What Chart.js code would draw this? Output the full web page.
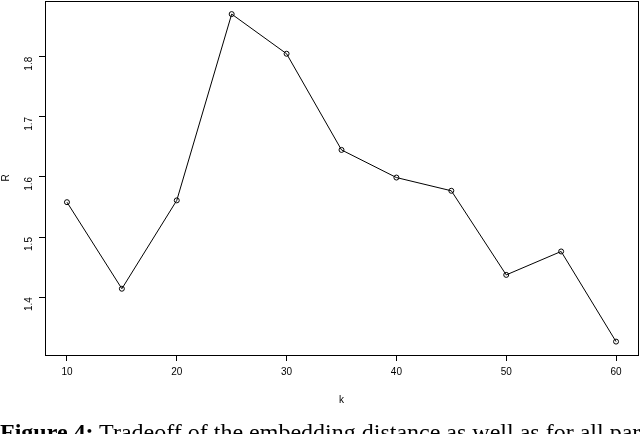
<!DOCTYPE html>
<html>
<head>
<meta charset="utf-8">
<script src="https://cdn.jsdelivr.net/npm/chart.js@4.4.1/dist/chart.umd.min.js"></script>
<style>
    html, body { margin: 0; padding: 0; background: #fff; }
    body { width: 640px; height: 434px; overflow: hidden; position: relative; }
    #chart { position: absolute; left: 0; top: 0; }
    .caption {
        position: absolute; left: 0; top: 419px; white-space: nowrap;
        font-family: "Liberation Serif", "DejaVu Serif", serif; font-size: 24px; color: #000;
    }
</style>
</head>
<body>
<canvas id="chart" width="640" height="434"></canvas>
<div class="caption"><b>Figure 4:</b> Tradeoff of the embedding distance as well as for all parameters and h</div>
<script>
// values
const kValues = [10, 15, 20, 25, 30, 35, 40, 45, 50, 55, 60];
const rValues = [1.558, 1.414, 1.561, 1.871, 1.805, 1.645, 1.599, 1.577, 1.437, 1.476, 1.326];
const xTicks = [10, 20, 30, 40, 50, 60];
const yTicks = [1.4, 1.5, 1.6, 1.7, 1.8];

const FONT = { family: 'Liberation Sans, Arial, sans-serif', size: 10 };

// R style box around the plotting region
const boxPlugin = {
    id: 'box',
    afterDraw(chart) {
        const a = chart.chartArea;
        const ctx = chart.ctx;
        ctx.save();
        ctx.strokeStyle = '#000';
        ctx.lineWidth = 1;
        ctx.strokeRect(Math.round(a.left) + 0.5, Math.round(a.top) + 0.5,
            Math.round(a.right - a.left), Math.round(a.bottom - a.top));
        ctx.restore();
    }
};

new Chart(document.getElementById('chart'), {
    type: 'line',
    data: {
        datasets: [{
            data: kValues.map((k, i) => ({ x: k, y: rValues[i] })),
            borderColor: '#000',
            borderWidth: 1,
            pointRadius: 2.5,
            pointBorderWidth: 1,
            pointBorderColor: '#000',
            pointBackgroundColor: 'rgba(0,0,0,0)',
            tension: 0
        }]
    },
    options: {
        responsive: false,
        animation: false,
        layout: { autoPadding: false, padding: { top: 1, right: 2, bottom: 24, left: 0 } },
        plugins: { legend: { display: false }, tooltip: { enabled: false } },
        scales: {
            x: {
                type: 'linear',
                min: 8,
                max: 62,
                afterBuildTicks: s => { s.ticks = xTicks.map(v => ({ value: v })); },
                afterFit: s => { s.height = 55; s.paddingLeft = 0; s.paddingRight = 0; },
                grid: { drawOnChartArea: false, drawTicks: true, tickLength: 6, tickColor: '#000' },
                border: { display: false },
                ticks: { color: '#000', font: FONT, padding: 5, maxRotation: 0 },
                title: { display: true, text: 'k', color: '#000', font: FONT, padding: { top: 12 } }
            },
            y: {
                min: 1.3037,
                max: 1.8928,
                afterBuildTicks: s => { s.ticks = yTicks.map(v => ({ value: v })); },
                afterFit: s => { s.width = 45; s.paddingTop = 0; s.paddingBottom = 0; },
                grid: { drawOnChartArea: false, drawTicks: true, tickLength: 6, tickColor: '#000' },
                border: { display: false },
                ticks: { color: '#000', font: FONT, padding: 10, minRotation: 90, maxRotation: 90,
                    callback: v => v.toFixed(1) },
                title: { display: true, text: 'R', color: '#000', font: FONT, padding: { top: 0, bottom: 0 } }
            }
        }
    },
    plugins: [boxPlugin]
});
</script>
</body>
</html>
